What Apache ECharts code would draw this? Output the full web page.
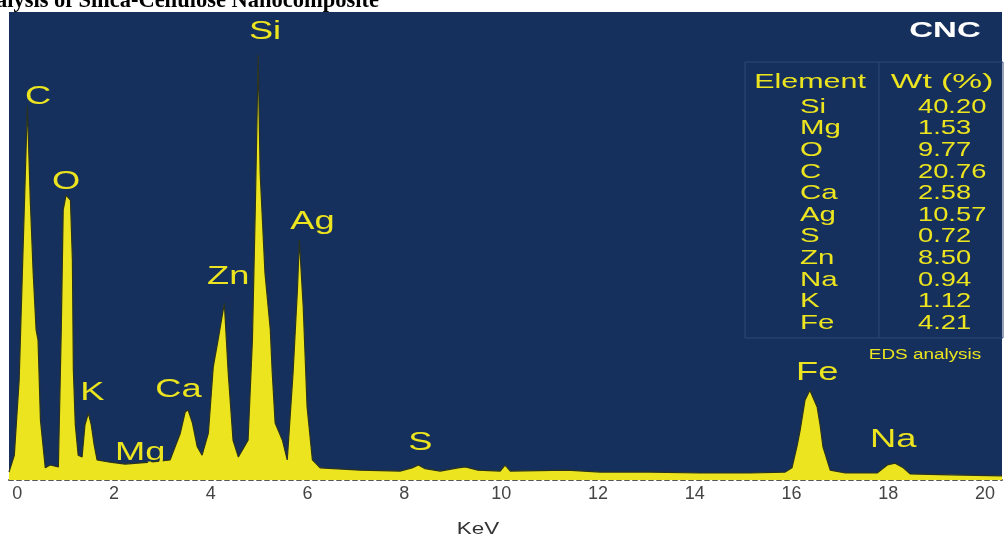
<!DOCTYPE html>
<html>
<head>
<meta charset="utf-8">
<script src="https://cdn.jsdelivr.net/npm/echarts@6/dist/echarts.min.js"></script>
<style>
html, body { margin: 0; padding: 0; background: #fff; }
#chart { width: 1004px; height: 540px; }
</style>
</head>
<body>
<div id="chart"></div>
<script>
// EDS spectrum (keV vs counts, arbitrary units)
var energy = [-0.17, -0.06, 0.04, 0.12, 0.21, 0.27, 0.33, 0.39, 0.43, 0.48, 0.58, 0.68, 0.85, 0.91, 0.95,
  1.01, 1.10, 1.14, 1.16, 1.20, 1.26, 1.34, 1.40, 1.47, 1.53, 1.59, 1.65, 1.92, 2.23, 2.75,
  3.16, 3.37, 3.47, 3.53, 3.62, 3.72, 3.82, 3.95, 4.05, 4.15, 4.28, 4.36, 4.46, 4.57, 4.77,
  4.86, 4.92, 4.98, 5.02, 5.12, 5.23, 5.27, 5.33, 5.48, 5.58, 5.70, 5.79, 5.83, 5.91, 5.99,
  6.10, 6.26, 7.09, 7.91, 8.16, 8.29, 8.43, 8.74, 9.11, 9.26, 9.52, 9.98, 10.08, 10.19, 11.36,
  12.05, 13.08, 14.11, 15.14, 15.87, 16.01, 16.12, 16.18, 16.28, 16.38, 16.53, 16.59, 16.65, 16.80, 17.11,
  17.77, 17.98, 18.14, 18.31, 18.45, 19.28, 20.35];
var counts = [1.7, 5.3, 21.4, 49.1, 80.1, 59.8, 44.2, 32.1, 29.9, 12.8, 2.6, 3.2, 2.8, 32.1, 57.7,
  60.9, 59.8, 47.0, 23.5, 11.8, 5.3, 4.9, 11.8, 14.3, 11.8, 7.5, 4.3, 3.8, 3.4, 3.8,
  4.3, 10.0, 14.5, 15.0, 12.2, 7.1, 5.3, 10.0, 24.1, 29.9, 37.8, 22.9, 8.5, 4.9, 8.5,
  29.9, 58.3, 90.8, 65.6, 44.2, 32.1, 22.9, 12.2, 8.5, 4.3, 22.9, 40.6, 51.3, 37.0, 15.6,
  4.3, 2.6, 2.1, 1.9, 2.6, 3.2, 2.4, 1.9, 2.6, 2.8, 2.1, 1.9, 3.2, 1.9, 2.1,
  1.7, 1.7, 1.5, 1.5, 1.7, 2.6, 7.5, 10.7, 17.1, 19.2, 15.6, 11.8, 7.1, 2.1, 1.5,
  1.5, 3.2, 3.6, 2.6, 1.3, 1.1, 0.9];

// peak annotations (label centre in data units)
var peakNames = ['C', 'O', 'K', 'Mg', 'Ca', 'Zn', 'Si', 'Ag', 'S', 'Fe', 'Na'];
var peakEnergy = [0.43, 1.01, 1.55, 2.54, 3.33, 4.36, 5.12, 6.10, 8.33, 16.53, 18.10];
var peakLevel = [81.8, 63.7, 18.6, 5.8, 19.2, 43.4, 95.7, 55.1, 7.9, 22.9, 8.5];

// composition table
var tableElements = ['Si', 'Mg', 'O', 'C', 'Ca', 'Ag', 'S', 'Zn', 'Na', 'K', 'Fe'];
var tableWt = ['40.20', '1.53', '9.77', '20.76', '2.58', '10.57', '0.72', '8.50', '0.94', '1.12', '4.21'];

var xTicks = [0, 2, 4, 6, 8, 10, 12, 14, 16, 18, 20];

var yellow = '#ece41e';
var navy = '#16305e';
var font = '"Liberation Sans", Arial, sans-serif';

var spectrum = [];
for (var i = 0; i < energy.length; i++) {
  spectrum.push([energy[i], counts[i]]);
}
var peaks = [];
for (var i = 0; i < peakNames.length; i++) {
  peaks.push([peakEnergy[i], peakLevel[i]]);
}

// title (cut by the page edge) and the table, as graphic texts
var graphics = [
  {
    type: 'text', x: 379, y: 13, z: 10,
    style: { text: 'EDS Analysis of Silica-Cellulose Nanocomposite', fill: '#000',
      font: 'bold 22.5px "Liberation Serif", "Times New Roman", serif', align: 'right', verticalAlign: 'bottom' }
  },
  {
    type: 'rect', z: 5,
    shape: { x: 745, y: 62, width: 258, height: 276 },
    style: { fill: 'none', stroke: '#2c4676', lineWidth: 1 }
  },
  {
    type: 'line', z: 5,
    shape: { x1: 879, y1: 62, x2: 879, y2: 338 },
    style: { stroke: '#2c4676', lineWidth: 1 }
  },
  {
    type: 'text', x: 945, y: 31, z: 10, scaleX: 1.5,
    style: { text: 'CNC', fill: '#fff', font: 'bold 22px ' + font, align: 'center', verticalAlign: 'middle' }
  },
  {
    type: 'text', x: 810, y: 82, z: 10, scaleX: 1.45,
    style: { text: 'Element', fill: yellow, font: '21px ' + font, align: 'center', verticalAlign: 'middle' }
  },
  {
    type: 'text', x: 942, y: 82, z: 10, scaleX: 1.6,
    style: { text: 'Wt (%)', fill: yellow, font: '21px ' + font, align: 'center', verticalAlign: 'middle' }
  },
  {
    type: 'text', x: 925, y: 355, z: 10, scaleX: 1.35,
    style: { text: 'EDS analysis', fill: yellow, font: '14px ' + font, align: 'center', verticalAlign: 'middle' }
  },
  {
    type: 'text', x: 478, y: 530, z: 10, scaleX: 1.4,
    style: { text: 'KeV', fill: '#333', font: '16px ' + font, align: 'center', verticalAlign: 'middle' }
  }
];
for (var i = 0; i < tableElements.length; i++) {
  var ry = 107 + i * 21.6;
  graphics.push({
    type: 'text', x: 800, y: ry, z: 10, scaleX: 1.4,
    style: { text: tableElements[i], fill: yellow, font: '21px ' + font, align: 'left', verticalAlign: 'middle' }
  });
  graphics.push({
    type: 'text', x: 918, y: ry, z: 10, scaleX: 1.3,
    style: { text: tableWt[i], fill: yellow, font: '21px ' + font, align: 'left', verticalAlign: 'middle' }
  });
}

var chart = echarts.init(document.getElementById('chart'));
var option = {
  animation: false,
  backgroundColor: '#fff',
  grid: {
    show: true,
    left: 9, right: 2, top: 12, bottom: 60,
    backgroundColor: navy,
    borderWidth: 0
  },
  xAxis: {
    type: 'value',
    min: -0.17,
    max: 20.35,
    splitLine: { show: false },
    axisLine: { show: true, lineStyle: { color: '#555', width: 2, type: [4, 4] } },
    axisTick: { show: false },
    axisLabel: {
      customValues: xTicks,
      color: '#444',
      fontSize: 18,
      fontFamily: font,
      margin: 5
    }
  },
  yAxis: {
    type: 'value',
    min: 0,
    max: 100,
    show: false
  },
  graphic: graphics,
  series: [
    {
      type: 'line',
      data: spectrum,
      symbol: 'none',
      smooth: false,
      lineStyle: { color: '#2a3320', width: 1.2 },
      areaStyle: { color: yellow, opacity: 1 },
      z: 2
    },
    {
      type: 'custom',
      data: peaks,
      z: 5,
      renderItem: function (params, api) {
        var p = api.coord([api.value(0), api.value(1)]);
        return {
          type: 'text',
          x: p[0], y: p[1],
          scaleX: 1.45,
          style: {
            text: peakNames[params.dataIndex],
            fill: yellow,
            font: '25px ' + font,
            align: 'center',
            verticalAlign: 'middle'
          }
        };
      }
    }
  ]
};
chart.setOption(option);
</script>
</body>
</html>
